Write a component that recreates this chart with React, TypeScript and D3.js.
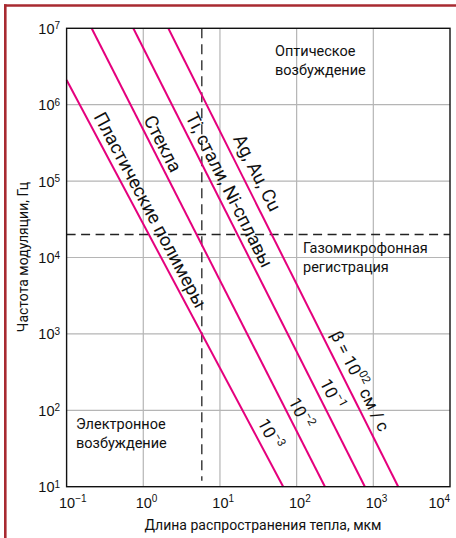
import * as d3 from 'd3';

// axis ticks
const xTicks = [0.1, 1, 10, 100, 1000, 10000];
const xTickExp = ['\u22121', '0', '1', '2', '3', '4'];
const yTicks = [10, 100, 1e3, 1e4, 1e5, 1e6, 1e7];
const yTickExp = ['1', '2', '3', '4', '5', '6', '7'];

// material lines: heat length (mkm) vs modulation frequency (Hz)
const materials = ['Пластические полимеры', 'Стекла', 'Ti, стали, Ni-сплавы', 'Ag, Au, Cu'];
const lineStartX = [0.1, 0.212, 0.741, 2.12];
const lineStartF = [2.1e6, 1e7, 1e7, 1e7];
const lineEndX = [66.8, 234, 776, 2113];
const lineEndF = [10, 10, 10, 10];
const betaExp = ['\u22123', '\u22122', '\u22121', '02'];

// regime borders
const boundaryLength = 5.8;
const boundaryFreq = 2e4;

// annotation placement (frequency on line, horizontal shift px)
const materialLabelF = [10 ** 4.62, 10 ** 5.486, 10 ** 4.88, 10 ** 5.106];
const materialLabelDx = [14, 12, 14, 16];
const betaLabelF = [10 ** 1.69, 10 ** 1.965, 10 ** 2.213, 10 ** 2.384];
const betaLabelDx = [15, 13.5, 14, 15];

const W = 456;
const H = 538;
const left = 66.6, right = 450, top = 28.3, bottom = 486.7;
const MAGENTA = '#e5007d';
const GRID = '#b5b5b5';
const TICK_FONT = '"Liberation Sans", Arial, sans-serif';
const TEXT_FONT = 'Roboto, "Noto Sans", sans-serif';

export default function App() {
  const x = d3.scaleLog().domain([0.1, 1e4]).range([left, right]);
  const y = d3.scaleLog().domain([10, 1e7]).range([bottom, top]);
  const line = d3.line<[number, number]>().x(d => x(d[0])).y(d => y(d[1]));

  // point on a material line at given frequency (log interpolation)
  const labelPos = (i: number, f: number, dx: number) => {
    const t = (Math.log10(f) - Math.log10(lineStartF[i])) /
      (Math.log10(lineEndF[i]) - Math.log10(lineStartF[i]));
    const lx = Math.log10(lineStartX[i]) + t * (Math.log10(lineEndX[i]) - Math.log10(lineStartX[i]));
    const px0 = x(lineStartX[i]), py0 = y(lineStartF[i]);
    const px1 = x(lineEndX[i]), py1 = y(lineEndF[i]);
    const angle = (Math.atan2(py1 - py0, px1 - px0) * 180) / Math.PI;
    return { cx: x(10 ** lx) + dx, cy: y(f), angle };
  };

  return (
    <svg width={W} height={H} style={{ position: 'absolute', left: 0, top: 0, background: '#fff' }}>
      {/* frame */}
      <line x1={4} x2={W} y1={5.5} y2={5.5} stroke="#a82a31" strokeWidth={2.6} />
      <line x1={5.3} x2={5.3} y1={4.2} y2={H} stroke="#a82a31" strokeWidth={2.6} />

      {/* grid */}
      {xTicks.slice(1, -1).map(t => (
        <line key={'gx' + t} x1={x(t)} x2={x(t)} y1={top} y2={bottom} stroke={GRID} strokeWidth={1.2} />
      ))}
      {yTicks.slice(1, -1).map(t => (
        <line key={'gy' + t} x1={left} x2={right} y1={y(t)} y2={y(t)} stroke={GRID} strokeWidth={1.2} />
      ))}

      {/* dashed borders */}
      <line x1={x(boundaryLength)} x2={x(boundaryLength)} y1={top} y2={y(12)}
        stroke="#222" strokeWidth={1.3} strokeDasharray="10,6" />
      <line x1={left} x2={right} y1={y(boundaryFreq)} y2={y(boundaryFreq)}
        stroke="#222" strokeWidth={1.3} strokeDasharray="9,5.5" />

      {/* material lines */}
      {materials.map((m, i) => (
        <path key={m} d={line([[lineStartX[i], lineStartF[i]], [lineEndX[i], lineEndF[i]]]) || ''}
          stroke={MAGENTA} strokeWidth={2} fill="none" />
      ))}

      <rect x={left} y={top} width={right - left} height={bottom - top} fill="none" stroke="#111" strokeWidth={1.4} />

      {/* tick labels */}
      {xTicks.map((t, i) => (
        <text key={'tx' + t} x={x(t) - 7.6 - (i === xTicks.length - 1 ? 14 : 0)} y={508}
          fontFamily={TICK_FONT} fontSize={14.5} fill="#111">
          10<tspan fontSize={10} dy={-6}>{xTickExp[i]}</tspan>
        </text>
      ))}
      {yTicks.map((t, i) => (
        <g key={'ty' + t}>
          <text x={54.5} y={y(t) + 5.5} textAnchor="end" fontFamily={TICK_FONT} fontSize={14.5} fill="#111">10</text>
          <text x={54.5} y={y(t) + 1} fontFamily={TICK_FONT} fontSize={10} fill="#111">{yTickExp[i]}</text>
        </g>
      ))}

      {/* axis titles */}
      <text x={263} y={530} textAnchor="middle" fontFamily={TEXT_FONT} fontSize={14} fill="#111">
        Длина распространения тепла, мкм
      </text>
      <text transform={`translate(28,257) rotate(-90)`} textAnchor="middle" fontFamily={TEXT_FONT} fontSize={14} fill="#111">
        Частота модуляции, Гц
      </text>

      {/* material labels */}
      {materials.map((m, i) => {
        const p = labelPos(i, materialLabelF[i], materialLabelDx[i]);
        return (
          <text key={'ml' + i} transform={`translate(${p.cx},${p.cy}) rotate(${p.angle})`}
            textAnchor="middle" dominantBaseline="central" fontFamily={TEXT_FONT} fontSize={18.5} fill="#111">
            {m}
          </text>
        );
      })}

      {/* diffusivity labels */}
      {betaExp.map((e, i) => {
        const p = labelPos(i, betaLabelF[i], betaLabelDx[i]);
        const last = i === betaExp.length - 1;
        return (
          <text key={'bl' + i} transform={`translate(${p.cx},${p.cy}) rotate(${p.angle})`}
            textAnchor="middle" dominantBaseline="central" fontFamily={TEXT_FONT} fontSize={17} fill="#111">
            {last ? '\u03b2 = 10' : '10'}
            <tspan fontSize={11.5} dy={-6}>{e}</tspan>
            {last ? <tspan dy={6}>{' см / с'}</tspan> : null}
          </text>
        );
      })}

      {/* regime annotations */}
      <text fontFamily={TEXT_FONT} fontSize={14.5} fill="#111">
        <tspan x={275} y={56}>Оптическое</tspan>
        <tspan x={275} y={75}>возбуждение</tspan>
      </text>
      <text fontFamily={TEXT_FONT} fontSize={14.5} fill="#111">
        <tspan x={303} y={253}>Газомикрофонная</tspan>
        <tspan x={303} y={272}>регистрация</tspan>
      </text>
      <text fontFamily={TEXT_FONT} fontSize={14.5} fill="#111">
        <tspan x={76} y={429}>Электронное</tspan>
        <tspan x={76} y={448}>возбуждение</tspan>
      </text>
    </svg>
  );
}
